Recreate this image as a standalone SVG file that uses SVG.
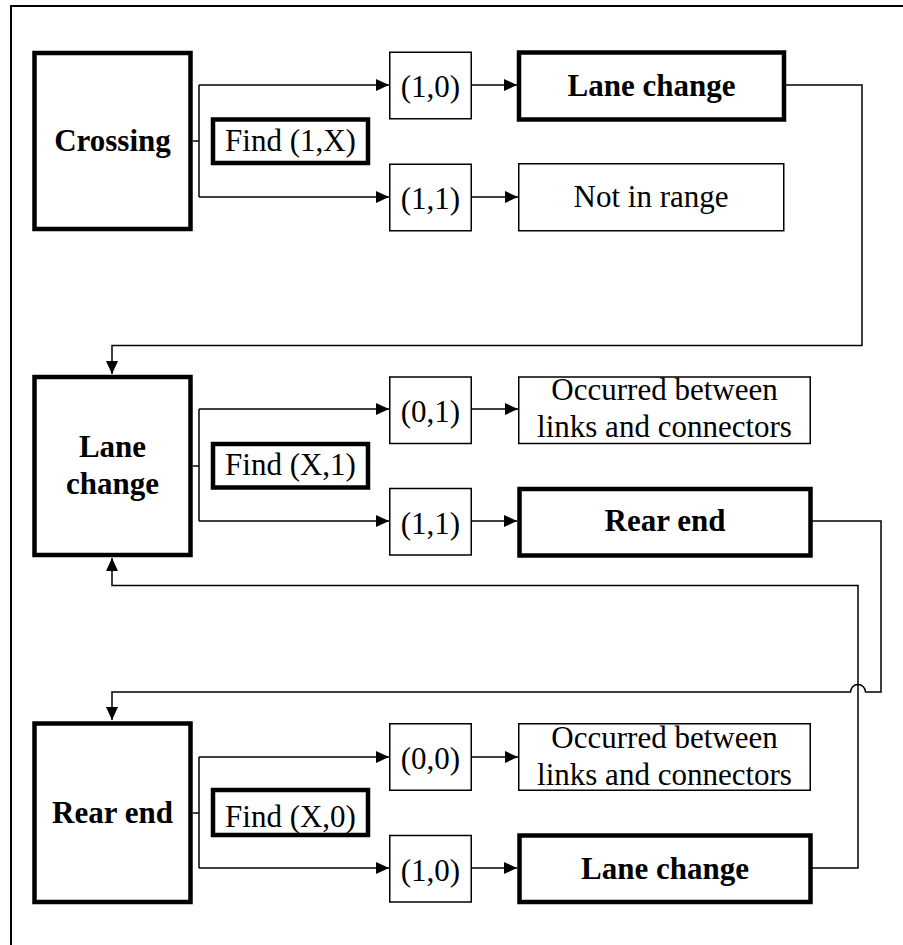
<svg xmlns="http://www.w3.org/2000/svg" width="903" height="945" viewBox="0 0 903 945">
  <style>
    .bg { fill: #ffffff; }
    .frame { fill: none; stroke: #000; stroke-width: 2; }
    .thick { fill: #fff; stroke: #000; stroke-width: 4.5; }
    .thin { fill: #fff; stroke: #000; stroke-width: 1.5; }
    .wire { fill: none; stroke: #000; stroke-width: 1.5; }
    text { font-family: "Liberation Serif", "Times New Roman", serif; font-size: 31px; fill: #000; text-anchor: middle; }
    .b { font-weight: bold; }
  </style>
  <defs>
    <marker id="arrow" markerUnits="userSpaceOnUse" markerWidth="13" markerHeight="12" refX="13" refY="6" orient="auto">
      <path d="M0,0 L13,6 L0,12 z" fill="#000"/>
    </marker>
  </defs>

  <rect class="bg" x="0" y="0" width="903" height="945"/>
  <!-- outer frame (open on right and bottom) -->
  <path class="frame" d="M11,945 V6 H903"/>

  <!-- connectors -->
  <g id="connectors">
    <!-- Crossing branch -->
    <path class="wire" d="M193,141 H199"/>
    <path class="wire" d="M199,85 V197"/>
    <path class="wire" d="M199,85 H389" marker-end="url(#arrow)"/>
    <path class="wire" d="M199,197 H389" marker-end="url(#arrow)"/>
    <path class="wire" d="M472,85 H517" marker-end="url(#arrow)"/>
    <path class="wire" d="M472,197 H518" marker-end="url(#arrow)"/>
    <path class="wire" d="M786,85 H862 V345.5 H112 V374" marker-end="url(#arrow)"/>

    <!-- Lane change branch -->
    <path class="wire" d="M193,466 H199"/>
    <path class="wire" d="M199,409 V521"/>
    <path class="wire" d="M199,409 H389" marker-end="url(#arrow)"/>
    <path class="wire" d="M199,521 H389" marker-end="url(#arrow)"/>
    <path class="wire" d="M472,409 H518" marker-end="url(#arrow)"/>
    <path class="wire" d="M472,521 H517" marker-end="url(#arrow)"/>
    <path class="wire" d="M812,521 H881 V692 H865.5 A7.5,7.5 0 0 0 850.5,692 H112 V720" marker-end="url(#arrow)"/>

    <!-- Rear end branch -->
    <path class="wire" d="M193,813 H199"/>
    <path class="wire" d="M199,757 V868"/>
    <path class="wire" d="M199,757 H389" marker-end="url(#arrow)"/>
    <path class="wire" d="M199,868 H389" marker-end="url(#arrow)"/>
    <path class="wire" d="M472,757 H518" marker-end="url(#arrow)"/>
    <path class="wire" d="M472,868 H517" marker-end="url(#arrow)"/>
    <path class="wire" d="M812,868 H858 V585.5 H112 V558" marker-end="url(#arrow)"/>
  </g>

  <!-- row 1 -->
  <g id="crossing">
    <rect class="thick" x="34.5" y="53" width="156" height="176"/>
    <text class="b" x="112.5" y="151">Crossing</text>
  </g>
  <g id="find-1x">
    <rect class="thick" x="213" y="119.5" width="155" height="43.5"/>
    <text x="290.5" y="151">Find (1,X)</text>
  </g>
  <g id="code-10-a">
    <rect class="thin" x="389.75" y="52.25" width="81.5" height="66.5"/>
    <text x="430.5" y="97">(1,0)</text>
  </g>
  <g id="code-11-a">
    <rect class="thin" x="389.75" y="164.25" width="81.5" height="66.5"/>
    <text x="430.5" y="209">(1,1)</text>
  </g>
  <g id="lane-change-a">
    <rect class="thick" x="519" y="52.5" width="265" height="67"/>
    <text class="b" x="651.5" y="96">Lane change</text>
  </g>
  <g id="not-in-range">
    <rect class="thin" x="518.75" y="163.75" width="265" height="67"/>
    <text x="651" y="207">Not in range</text>
  </g>

  <!-- row 2 -->
  <g id="lane-change">
    <rect class="thick" x="34.5" y="377" width="156" height="178"/>
    <text class="b" x="112.5" y="457">Lane</text>
    <text class="b" x="112.5" y="494">change</text>
  </g>
  <g id="find-x1">
    <rect class="thick" x="213" y="444" width="155" height="43.5"/>
    <text x="290.5" y="475">Find (X,1)</text>
  </g>
  <g id="code-01">
    <rect class="thin" x="389.75" y="377" width="81.5" height="66.5"/>
    <text x="430.5" y="422">(0,1)</text>
  </g>
  <g id="code-11-b">
    <rect class="thin" x="389.75" y="488.5" width="81.5" height="66.5"/>
    <text x="430.5" y="534">(1,1)</text>
  </g>
  <g id="between-a">
    <rect class="thin" x="518.75" y="377" width="291.5" height="66.5"/>
    <text x="664.5" y="400">Occurred between</text>
    <text x="664.5" y="437">links and connectors</text>
  </g>
  <g id="rear-end-a">
    <rect class="thick" x="519.5" y="489" width="291" height="66.5"/>
    <text class="b" x="665" y="531">Rear end</text>
  </g>

  <!-- row 3 -->
  <g id="rear-end">
    <rect class="thick" x="34.5" y="723.5" width="156" height="178.5"/>
    <text class="b" x="112.5" y="823">Rear end</text>
  </g>
  <g id="find-x0">
    <rect class="thick" x="213" y="790" width="155" height="45"/>
    <text x="290.5" y="827">Find (X,0)</text>
  </g>
  <g id="code-00">
    <rect class="thin" x="389.75" y="723.75" width="81.5" height="66.5"/>
    <text x="430.5" y="769">(0,0)</text>
  </g>
  <g id="code-10-b">
    <rect class="thin" x="389.75" y="835.5" width="81.5" height="66.5"/>
    <text x="430.5" y="881">(1,0)</text>
  </g>
  <g id="between-b">
    <rect class="thin" x="518.75" y="723.75" width="291.5" height="66.5"/>
    <text x="664.5" y="748">Occurred between</text>
    <text x="664.5" y="785">links and connectors</text>
  </g>
  <g id="lane-change-b">
    <rect class="thick" x="519.5" y="835.5" width="291" height="66.5"/>
    <text class="b" x="665" y="879">Lane change</text>
  </g>
</svg>
